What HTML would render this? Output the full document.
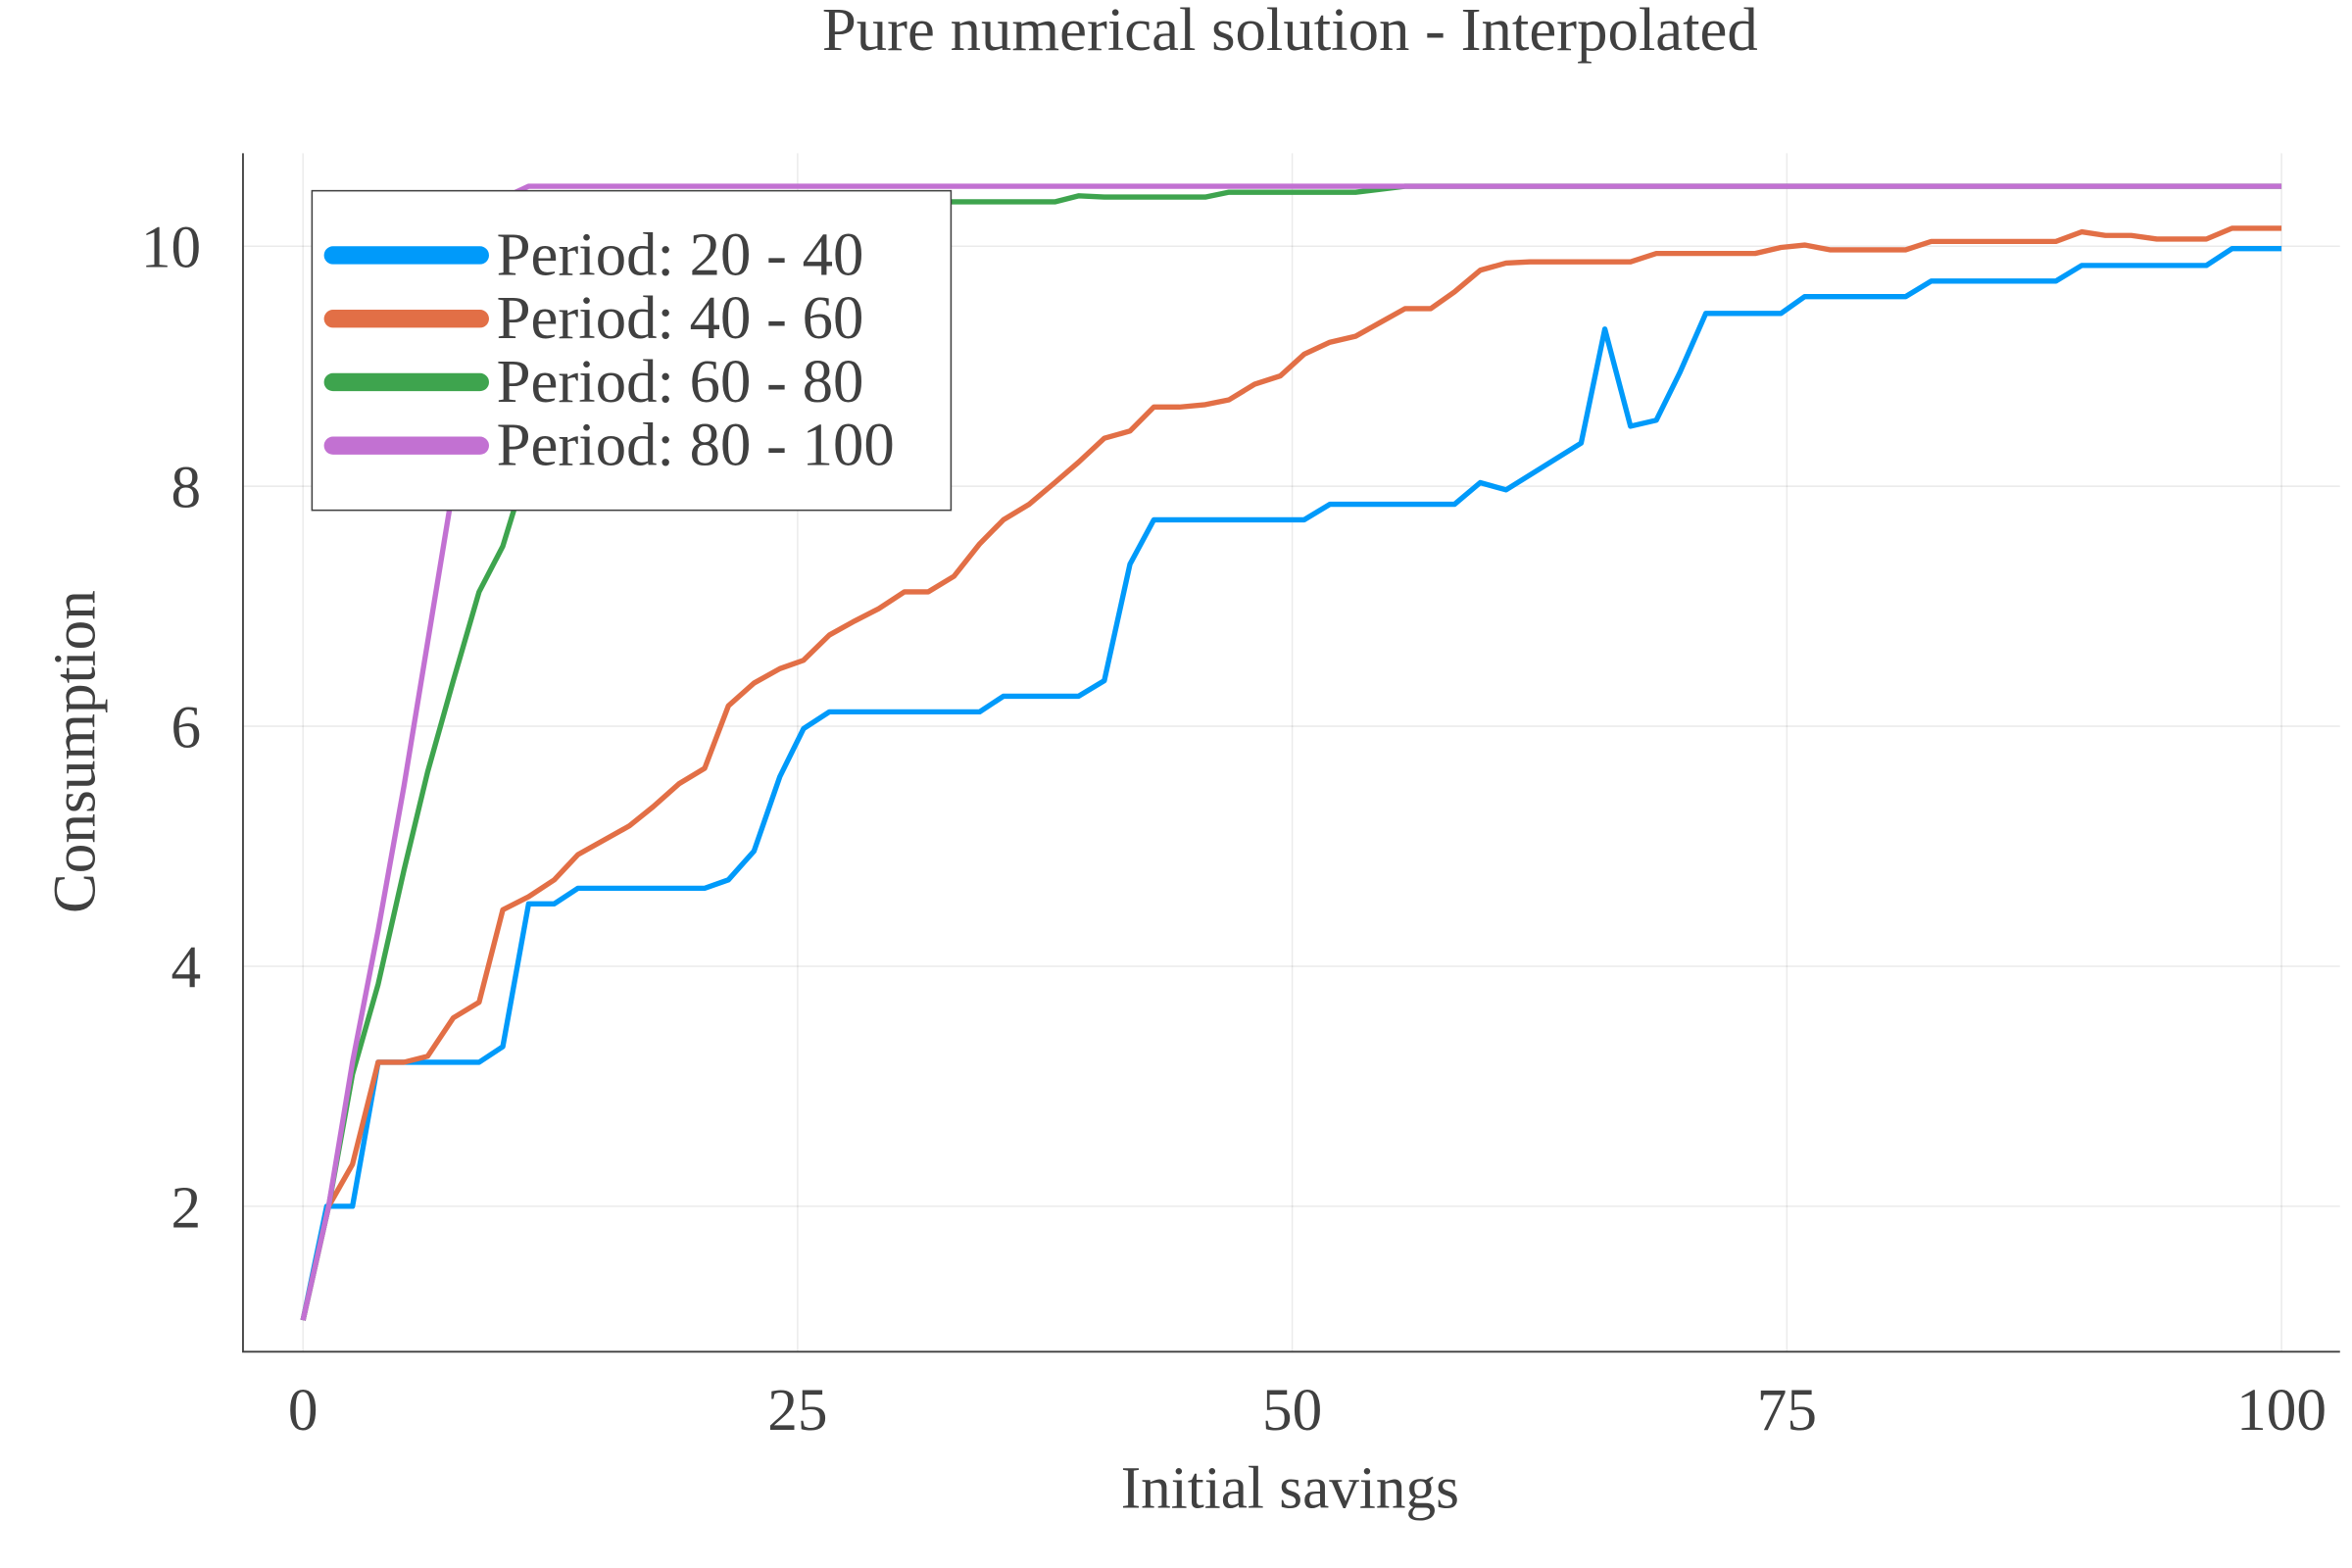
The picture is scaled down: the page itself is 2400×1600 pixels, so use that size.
<!DOCTYPE html>
<html><head><meta charset="utf-8"><style>html,body{margin:0;padding:0;background:#fff}svg{display:block}</style></head>
<body>
<svg id="chart" width="2400" height="1600" viewBox="0 0 1568 1045" xmlns="http://www.w3.org/2000/svg" font-family="'Liberation Serif', serif" fill="#404040">
<text x="860" y="33" font-size="41" text-anchor="middle">Pure numerical solution - Interpolated</text>
<g id="grid"></g>
<g id="axes"></g>
<g id="series"></g>
<text x="860" y="1005" font-size="40" text-anchor="middle">Initial savings</text>
<text transform="translate(63,501) rotate(-90)" font-size="40" text-anchor="middle">Consumption</text>
<g id="legend"></g>
</svg>
<script>
const xTicks=[0,25,50,75,100];
const yTicks=[2,4,6,8,10];
const seriesNames=["Period: 20 - 40","Period: 40 - 60","Period: 60 - 80","Period: 80 - 100"];
const blueX=[0,1.2,2.5,3.8,8.9,10.1,11.4,12.7,13.9,20.3,21.5,22.8,24.1,25.3,26.6,34.2,35.4,39.2,40.5,41.8,43.0,50.6,51.9,58.2,59.5,60.8,64.6,65.8,67.1,68.4,69.6,70.9,74.7,75.9,81.0,82.3,88.6,89.9,96.2,97.5,100];
const blueY=[1.05,2.0,2.0,3.2,3.2,3.33,4.52,4.52,4.65,4.65,4.72,4.96,5.58,5.98,6.12,6.12,6.25,6.25,6.38,7.35,7.72,7.72,7.85,7.85,8.03,7.97,8.36,9.31,8.5,8.55,8.95,9.44,9.44,9.58,9.58,9.71,9.71,9.84,9.84,9.98,9.98];
const orangeX=[0,1.3,2.5,3.8,5.1,6.3,7.6,8.9,10.1,11.4,12.7,13.9,16.5,17.7,19.0,20.3,21.5,22.8,24.1,25.3,26.6,27.8,29.1,30.4,31.6,32.9,34.2,35.4,36.7,38.0,39.2,40.5,41.8,43.0,44.3,45.6,46.8,48.1,49.4,50.6,51.9,53.2,54.4,55.7,57.0,58.2,59.5,60.8,62.0,67.1,68.4,73.4,74.7,75.9,77.2,81.0,82.3,88.6,89.9,91.1,92.4,93.7,96.2,97.5,100];
const orangeY=[1.05,2.0,2.35,3.2,3.2,3.25,3.57,3.7,4.47,4.58,4.72,4.93,5.17,5.33,5.52,5.65,6.17,6.36,6.48,6.55,6.76,6.87,6.98,7.12,7.12,7.25,7.52,7.72,7.85,8.03,8.2,8.4,8.46,8.66,8.66,8.68,8.72,8.85,8.92,9.1,9.2,9.25,9.36,9.48,9.48,9.62,9.8,9.86,9.87,9.87,9.94,9.94,9.99,10.01,9.97,9.97,10.04,10.04,10.12,10.09,10.09,10.06,10.06,10.15,10.15];
const greenX=[0,1.3,2.5,3.8,5.1,6.3,7.6,8.9,10.1,11.4,12.7,13.9,15.2,16.5,19.0,22.8,26.6,38.0,39.2,40.5,45.6,46.8,53.2,55.7,100];
const greenY=[1.05,2.0,3.1,3.85,4.8,5.62,6.38,7.12,7.5,8.2,8.8,9.3,9.7,10.0,10.2,10.3,10.37,10.37,10.42,10.41,10.41,10.45,10.45,10.5,10.5];
const purpleX=[0,1.3,2.5,3.8,5.1,6.3,7.6,8.9,10.1,11.4,100];
const purpleY=[1.05,2.0,3.2,4.3,5.5,6.7,8.0,9.2,10.4,10.5,10.5];
const colors=["#009AFA","#E26F46","#3EA44E","#C271D2"];
const NS="http://www.w3.org/2000/svg";
const X=v=>202+v*13.19;
const Y=v=>964-v*80;
function mk(t,a,p){const e=document.createElementNS(NS,t);for(const k in a)e.setAttribute(k,a[k]);p.appendChild(e);return e;}
const grid=document.getElementById('grid'),axes=document.getElementById('axes'),ser=document.getElementById('series'),leg=document.getElementById('legend');
xTicks.forEach(t=>{const l=mk('line',{x1:X(t),x2:X(t),y1:102,y2:901,stroke:'#000','stroke-opacity':0.08,'stroke-width':1},grid);


const tx=mk('text',{x:X(t),y:953,'font-size':40,'text-anchor':'middle'},axes);tx.textContent=t;

});
yTicks.forEach(t=>{const l=mk('line',{x1:162,x2:1560,y1:Y(t),y2:Y(t),stroke:'#000','stroke-opacity':0.08,'stroke-width':1},grid);


const tx=mk('text',{x:134,y:Y(t)+14,'font-size':40,'text-anchor':'end'},axes);tx.textContent=t;

});
const ax=mk('path',{d:'M162,102 L162,901 L1560,901',fill:'none',stroke:'#404040','stroke-width':1.2},axes);


const data=[[blueX,blueY],[orangeX,orangeY],[greenX,greenY],[purpleX,purpleY]];
const snames=['series-20-40','series-40-60','series-60-80','series-80-100'];
[0,1,2,3].forEach(i=>{const [xs,ys]=data[i];const d=xs.map((x,j)=>(j?'L':'M')+X(x).toFixed(1)+','+Y(ys[j]).toFixed(1)).join(' ');
const p=mk('path',{d:d,fill:'none',stroke:colors[i],'stroke-width':3.5,'stroke-linejoin':'round'},ser);

});
const box=mk('rect',{x:208,y:127,width:426,height:213,fill:'#fff',stroke:'#404040','stroke-width':1},leg);


seriesNames.forEach((n,i)=>{const y=170+i*42.3;
const l=mk('line',{x1:222,x2:320,y1:y,y2:y,stroke:colors[i],'stroke-width':12,'stroke-linecap':'round'},leg);


const t=mk('text',{x:331,y:y+13,'font-size':41},leg);t.textContent=n;

});
</script>
</body></html>
